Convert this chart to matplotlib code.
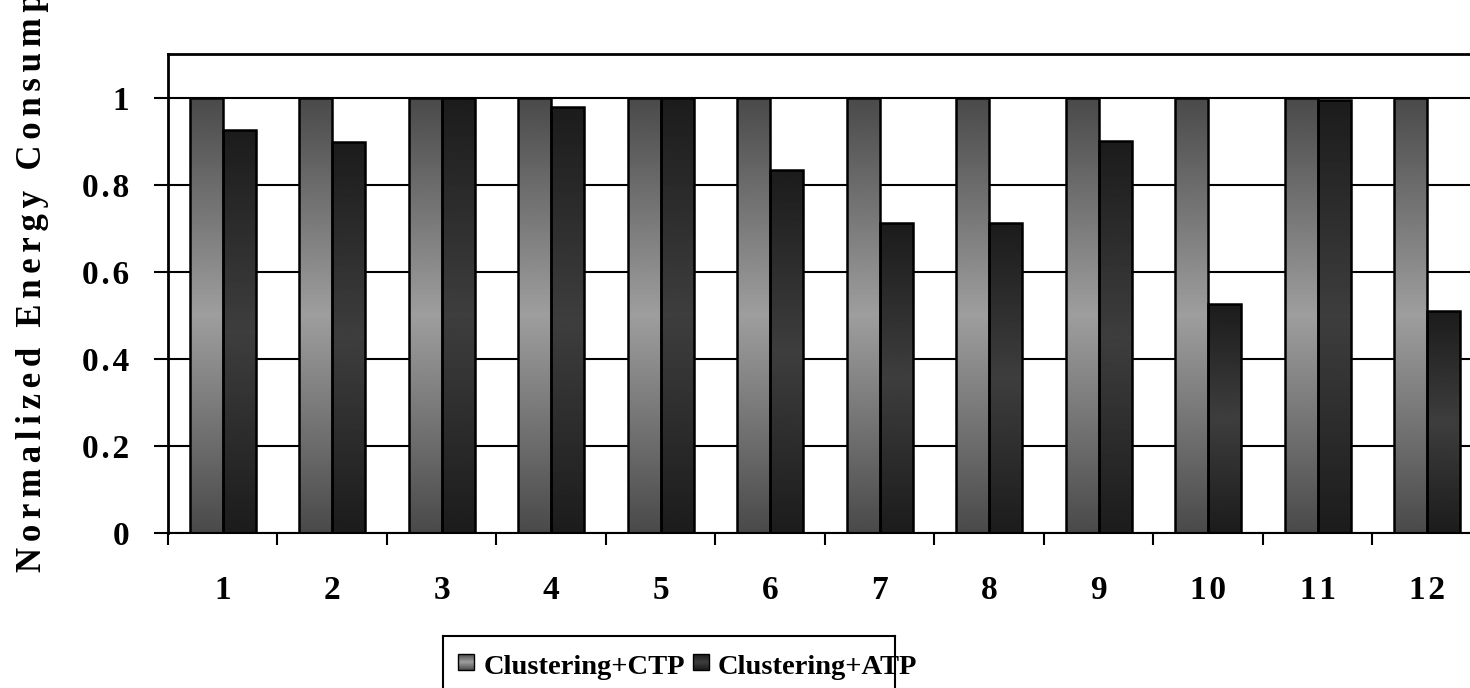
import numpy as np
import matplotlib
matplotlib.use("Agg")
import matplotlib.pyplot as plt
from matplotlib.patches import Rectangle

# data
cases = ['1', '2', '3', '4', '5', '6', '7', '8', '9', '10', '11', '12']
ctp = [1.0, 1.0, 1.0, 1.0, 1.0, 1.0, 1.0, 1.0, 1.0, 1.0, 1.0, 1.0]
atp = [0.925, 0.898, 1.0, 0.979, 1.0, 0.833, 0.711, 0.711, 0.900, 0.527, 0.994, 0.509]
y_ticks = [0, 0.2, 0.4, 0.6, 0.8, 1]
y_ticklabels = ['0', '0.2', '0.4', '0.6', '0.8', '1']
series_names = ['Clustering+CTP', 'Clustering+ATP']
y_title = 'Normalized Energy Consumption'

plt.rcParams['font.family'] = ['Liberation Serif', 'DejaVu Serif']
plt.rcParams['font.weight'] = 'bold'


def spaced(s, sep='\u200a'):
    # poor man's letter spacing
    return sep.join(s)


def shade(dark, light, n=256):
    # dark at both ends, light in the middle (Excel style gradient)
    t = np.linspace(0, 1, n)
    v = dark + (light - dark) * (1 - np.abs(2 * t - 1))
    return np.repeat(v[:, None], 2, axis=1)


W, H = 1470, 688
fig = plt.figure(figsize=(W / 100, H / 100), dpi=100)
ax = fig.add_axes([168 / W, (H - 533) / H, 1314 / W, (533 - 54) / H])

x = np.arange(len(cases)) + 1
bw = 0.3
styles = [(0x4a / 255, 0x9e / 255), (0x1c / 255, 0x3e / 255)]

for vals, off, (dk, lt) in zip([ctp, atp], [-bw / 2, bw / 2], styles):
    bars = ax.bar(x + off, vals, bw, facecolor='none', edgecolor='black',
                  linewidth=1.8, zorder=3)
    for b in bars:
        x0, h = b.get_x(), b.get_height()
        im = ax.imshow(shade(dk, lt), cmap='gray', vmin=0, vmax=1,
                       extent=(x0, x0 + bw, 0, h), origin='lower',
                       aspect='auto', zorder=2, interpolation='bilinear')
        im.set_clip_path(b)

ax.set_xlim(0.5, 12.5)
ax.set_ylim(0, 1.1)
ax.set_aspect('auto')

ax.set_yticks(y_ticks)
ax.set_yticklabels([spaced(t) for t in y_ticklabels])
ax.yaxis.grid(True, color='black', linewidth=1.5)
ax.set_axisbelow(True)

ax.set_xticks(np.arange(0.5, 13, 1))
ax.set_xticklabels([])
ax.set_xticks(x, minor=True)
ax.set_xticklabels([spaced(c) for c in cases], minor=True)

ax.tick_params(axis='y', direction='out', length=10, width=1.5, pad=18,
               labelsize=24)
ax.tick_params(axis='x', which='major', direction='out', length=8.5, width=1.5)
ax.tick_params(axis='x', which='minor', length=0, pad=30, labelsize=24)

for side in ['left', 'top']:
    ax.spines[side].set_linewidth(2)
ax.spines['bottom'].set_linewidth(1.5)
ax.spines['right'].set_visible(False)

# the title runs off the top edge, as in the reference
fig.text(33 / W, (H - 572) / H, spaced(y_title, '\u200a\u200a'), rotation=90,
         ha='center', va='bottom', fontsize=25, fontweight='bold')

# legend box, bottom edge runs off the picture like in the reference
lg = fig.add_axes([443 / W, 0, 452 / W, 52 / H])
lg.set_xticks([])
lg.set_yticks([])
lg.spines['bottom'].set_visible(False)
for side in ['left', 'top', 'right']:
    lg.spines[side].set_linewidth(1.5)
for name, (dk, lt), sx, tx in zip(series_names, styles, [15, 250], [41, 275]):
    sq = Rectangle((sx, 18), 16, 16, facecolor='none', edgecolor='black',
                   linewidth=1, zorder=3)
    lg.add_patch(sq)
    im = lg.imshow(shade(dk, lt), cmap='gray', vmin=0, vmax=1,
                   extent=(sx, sx + 16, 18, 34), origin='lower', aspect='auto',
                   zorder=2)
    im.set_clip_path(sq)
    lg.text(tx, 14, name, fontsize=20.5, fontweight='bold',
            ha='left', va='baseline')
lg.set_xlim(0, 452)
lg.set_ylim(0, 52)

fig.savefig('out.png', dpi=100)
